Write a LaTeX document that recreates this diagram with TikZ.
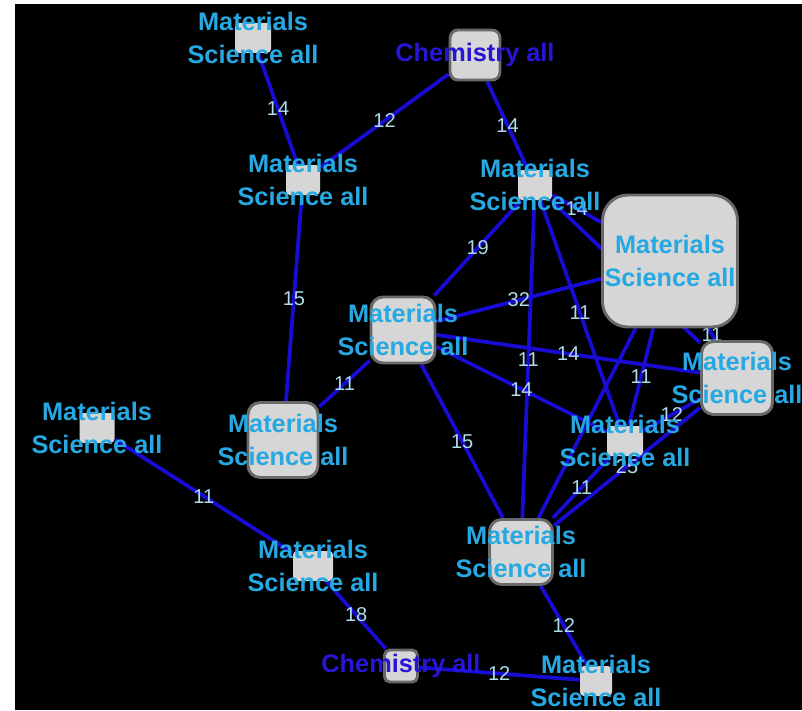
\documentclass[tikz,border=0pt]{standalone}
\usepackage{fontspec}
\setmainfont{Liberation Sans}

\definecolor{edgeblue}{RGB}{24,12,212}
\definecolor{boxfill}{RGB}{214,214,214}
\definecolor{boxline}{RGB}{105,105,105}
\definecolor{mattext}{RGB}{38,168,226}
\definecolor{chemtext}{RGB}{40,22,215}
\definecolor{weighttext}{RGB}{172,222,236}

\pgfdeclarelayer{background}
\pgfsetlayers{background,main}

\tikzset{every picture/.style={line width=0.75pt}}
\tikzset{
  sz/.style 2 args={minimum width=0.75pt*#1, minimum height=0.75pt*#2},
  smallbox/.style={rectangle, rounded corners=3pt, fill=boxfill, draw=none, inner sep=0pt},
  framebox/.style={rectangle, rounded corners=#1, fill=boxfill, draw=boxline, line width=2.2pt, inner sep=0pt},
  mattxt/.style={text=mattext, align=center, font=\bfseries\fontsize{19}{24.5}\selectfont, inner sep=0pt},
  chemtxt/.style={text=chemtext, font=\bfseries\fontsize{19}{24.5}\selectfont, inner sep=0pt},
  mat/.style={label={[mattxt]center:Materials\\Science all}},
  chem/.style={label={[chemtxt]center:Chemistry all}},
  link/.style={draw=edgeblue, line width=2.8pt},
  wt/.style={text=weighttext, font=\fontsize{15}{18}\selectfont, inner sep=0pt},
}

\begin{document}
\begin{tikzpicture}[x=0.75pt,y=0.75pt,yscale=-1,xscale=1]
\useasboundingbox (0,0) rectangle (802,710);

% Nodes
\node[smallbox, sz={36}{30}, mat] (ma) at (253,38) {};
\node[smallbox, sz={34}{30}, mat] (mb) at (303,180) {};
\node[framebox=6pt, sz={50}{50}, chem] (cht) at (475,55) {};
\node[smallbox, sz={34}{30}, mat] (mc) at (535,185) {};
\node[framebox=19pt, sz={135}{132}, mat] (md) at (670,261) {};
\node[framebox=9pt, sz={64}{66}, mat] (me) at (403,330) {};
\node[framebox=9pt, sz={71}{73}, mat] (mf) at (737,378) {};
\node[smallbox, sz={36}{30}, mat] (mg) at (625,441) {};
\node[framebox=9pt, sz={70}{75}, mat] (mh) at (283,440) {};
\node[smallbox, sz={35}{30}, mat] (mi) at (97,428) {};
\node[framebox=9pt, sz={63}{65}, mat] (mj) at (521,552) {};
\node[smallbox, sz={40}{30}, mat] (mk) at (313,566) {};
\node[framebox=4pt, sz={33}{32}, chem] (chb) at (401,666) {};
\node[smallbox, sz={32}{30}, mat] (ml) at (596,681) {};

\begin{pgfonlayer}{background}
% canvas
\fill[white] (0,0) rectangle (802,710);
\fill[black] (15,4) rectangle (802,710);

% Links with weights
\draw[link] (ma) -- (mb) node[wt, midway] {14};
\draw[link] (mb) -- (cht) node[wt, midway] {12};
\draw[link] (cht) -- (mc) node[wt, midway] {14};
\draw[link] (mb) -- (mh) node[wt, midway] {15};
\draw[link] (mc) -- (me) node[wt, midway] {19};
\draw[link] (mc) -- (md) node[wt, midway] {14};
\draw[link] (mc) -- (mf);
\draw[link] (mc) -- (mg) node[wt, midway] {11};
\draw[link] (mc) -- (mj) node[wt, midway] {11};
\draw[link] (me) -- (md) node[wt, midway] {32};
\draw[link] (me) -- (mf) node[wt, midway] {14};
\draw[link] (me) -- (mg) node[wt, midway] {14};
\draw[link] (me) -- (mj) node[wt, midway] {15};
\draw[link] (me) -- (mh) node[wt, midway] {11};
\draw[link] (md) -- (mf) node[wt, midway] {11};
\draw[link] (md) -- (mg) node[wt, midway] {11};
\draw[link] (md) -- (mj);
\draw[link] (mg) -- (mf) node[wt, midway] {12};
\draw[link] (mj) -- (mf) node[wt, midway] {25};
\draw[link] (mj) -- (mg) node[wt, midway] {11};
\draw[link] (mi) -- (mk) node[wt, midway] {11};
\draw[link] (mk) -- (chb) node[wt, midway] {18};
\draw[link] (chb) -- (ml) node[wt, midway] {12};
\draw[link] (mj) -- (ml) node[wt, midway] {12};
\end{pgfonlayer}

\end{tikzpicture}
\end{document}
